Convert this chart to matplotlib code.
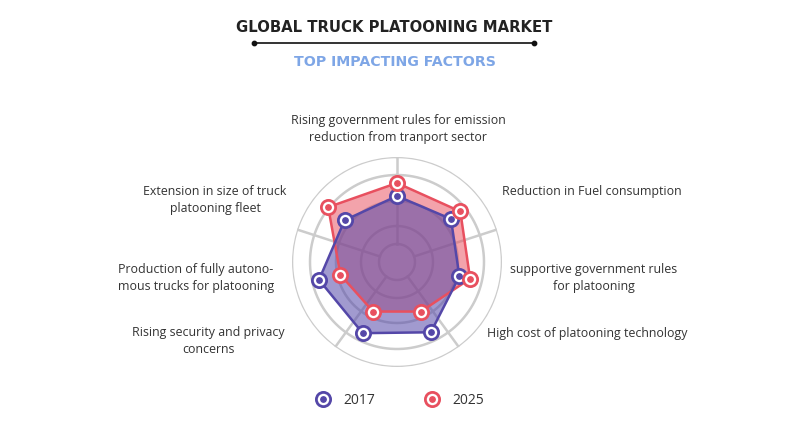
import numpy as np
import matplotlib
matplotlib.use("Agg")
import matplotlib.pyplot as plt

# factors, clockwise from the top
factors = [
    "Rising government rules for emission\nreduction from tranport sector",
    "Reduction in Fuel consumption",
    "supportive government rules\nfor platooning",
    "High cost of platooning technology",
    "Rising security and privacy\nconcerns",
    "Production of fully autono-\nmous trucks for platooning",
    "Extension in size of truck\nplatooning fleet",
]
years = ["2017", "2025"]
impact_2017 = [66, 69, 64, 78, 79, 80, 67]
impact_2025 = [79, 81, 75, 55, 55, 58, 88]
ring_levels = [18, 36, 61, 87, 105]

W, H = 790, 442
cx, cy, R = 397, 262, 105
blue = "#5447a8"
red = "#e8505f"

fig = plt.figure(figsize=(W / 100, H / 100), dpi=100)

# overlay in pixel coords for texts and legend
ov = fig.add_axes([0, 0, 1, 1])
ov.set_xlim(0, W)
ov.set_ylim(H, 0)
ov.axis("off")

ax = fig.add_axes([(cx - R) / W, (H - cy - R) / H, 2 * R / W, 2 * R / H], polar=True)
ax.set_facecolor("none")
ax.set_theta_offset(np.pi / 2)
ax.set_theta_direction(-1)
ax.set_ylim(0, R)
ax.grid(False)
ax.set_xticks([])
ax.set_yticks([])
ax.spines["polar"].set_visible(False)

t = np.linspace(0, 2 * np.pi, 400)
for lv in ring_levels:
    ax.plot(t, np.full_like(t, lv), color="#cccccc", lw=1.8, zorder=1)
for a in np.radians([0, 72, 144, 216, 288]):
    ax.plot([a, a], [ring_levels[0], R], color="#cccccc", lw=1.8, zorder=1)

ang = np.arange(len(factors)) * 2 * np.pi / len(factors)
ang_c = np.append(ang, ang[0])
v17 = np.append(impact_2017, impact_2017[0])
v25 = np.append(impact_2025, impact_2025[0])

# red first, blue fill laid over it
ax.fill(ang_c, v25, color=red, alpha=0.52, lw=0, zorder=2)
ax.fill(ang_c, v17, color=blue, alpha=0.55, lw=0, zorder=2)
ax.plot(ang_c, v25, color=red, lw=1.8, zorder=3)
ax.plot(ang_c, v17, color=blue, lw=1.8, zorder=3)
for vals, col in [(impact_2017, blue), (impact_2025, red)]:
    ax.scatter(ang, vals, s=105, facecolor="white", edgecolor=col, linewidth=2.0, zorder=4, clip_on=False)
    ax.scatter(ang, vals, s=15, color=col, zorder=5, clip_on=False)

# labels
lab_font = dict(family="Open Sans", fontsize=8.9, color="#333333", linespacing=1.38)
pos = [
    (398, 129, "center"),
    (502, 191, "left"),
    (594, 278, "center"),
    (487, 333, "left"),
    (208, 341, "center"),
    (118, 278, "left"),
    (215, 200, "center"),
]
for (x, y, ha), txt in zip(pos, factors):
    ov.text(x, y, txt, ha=ha, va="center", multialignment=ha, **lab_font)

# title block
ov.text(394, 27, "GLOBAL TRUCK PLATOONING MARKET", ha="center", va="center",
        family="DejaVu Sans", fontweight="bold", fontsize=10.7, color="#222222")
ov.plot([254, 534], [43, 43], color="#111111", lw=1.2)
ov.scatter([254, 534], [43, 43], s=10, color="#111111")
ov.text(395, 62, "TOP IMPACTING FACTORS", ha="center", va="center",
        family="DejaVu Sans", fontweight="bold", fontsize=10.2, color="#7ea6e6")

# legend
for x, col, yr in [(323, blue, years[0]), (432, red, years[1])]:
    ov.scatter([x], [399], s=105, facecolor="white", edgecolor=col, linewidth=2.0)
    ov.scatter([x], [399], s=15, color=col)
    ov.text(x + 20, 400, yr, ha="left", va="center", family="Open Sans", fontsize=10, color="#333333")

fig.savefig("out.png", dpi=100)
